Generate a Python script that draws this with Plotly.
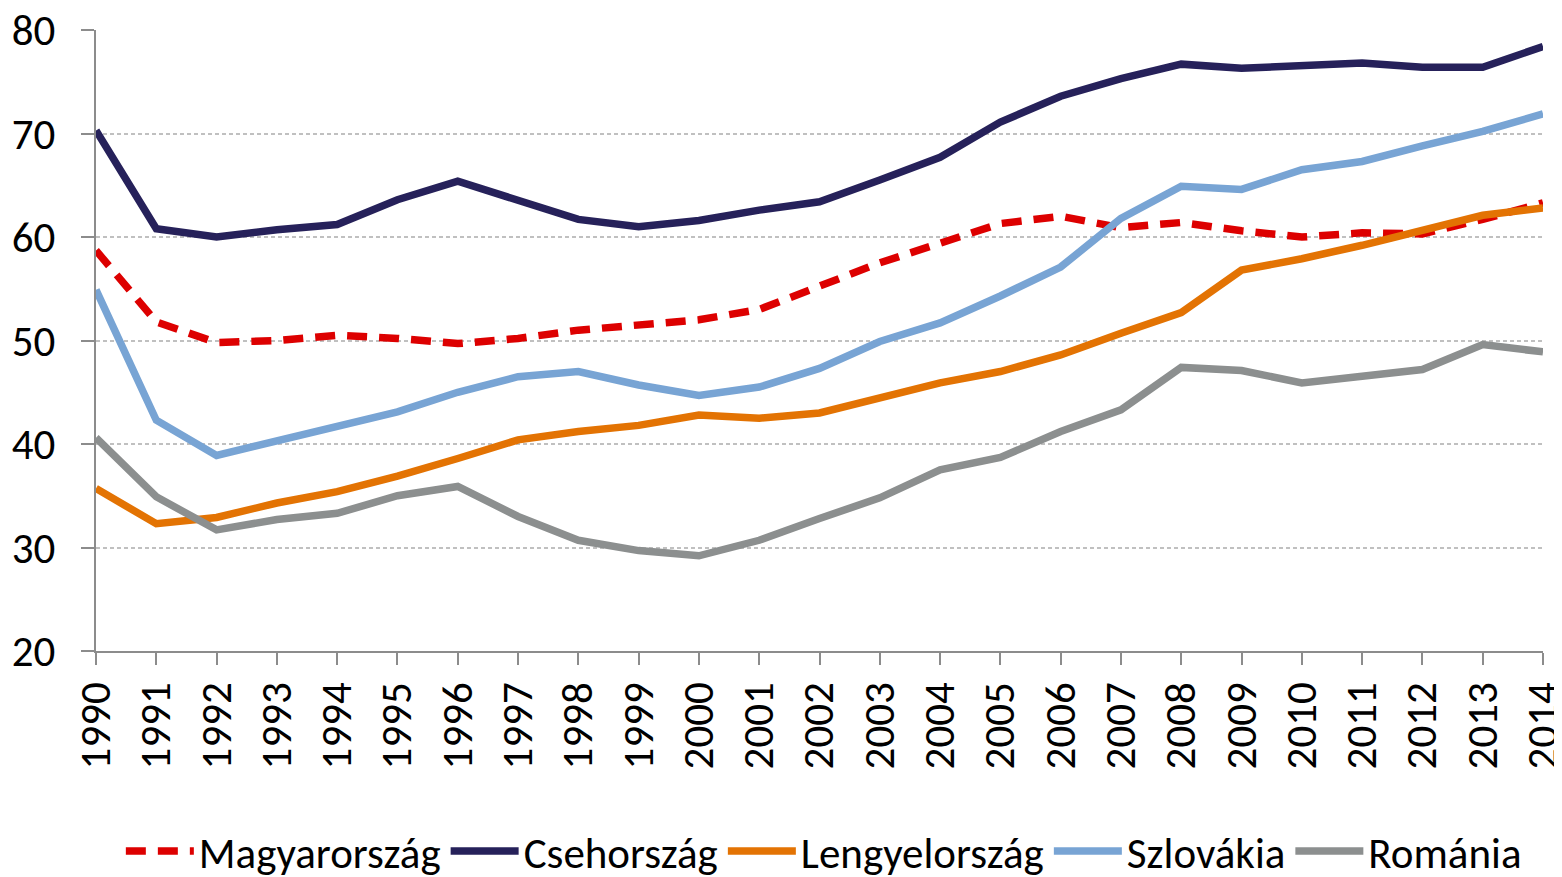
import plotly.graph_objects as go

years = list(range(1990, 2015))

magyarorszag = [58.7, 51.8, 49.8, 50.0, 50.5, 50.2, 49.7, 50.2, 51.0, 51.5, 52.0, 53.0, 55.3,
                57.5, 59.4, 61.3, 62.0, 60.9, 61.4, 60.6, 60.0, 60.4, 60.3, 61.7, 63.3]
csehorszag = [70.3, 60.8, 60.0, 60.7, 61.2, 63.6, 65.4, 63.5, 61.7, 61.0, 61.6, 62.6, 63.4,
              65.5, 67.7, 71.1, 73.6, 75.3, 76.7, 76.3, 76.5, 76.8, 76.4, 76.4, 78.4]
lengyelorszag = [35.7, 32.3, 32.9, 34.3, 35.4, 36.9, 38.6, 40.4, 41.2, 41.8, 42.8, 42.5, 43.0,
                 44.4, 45.9, 47.0, 48.6, 50.7, 52.7, 56.8, 57.9, 59.2, 60.6, 62.1, 62.8]
szlovakia = [54.9, 42.3, 38.9, 40.3, 41.6, 43.1, 45.0, 46.5, 47.0, 45.7, 44.7, 45.5, 47.3,
             49.9, 51.7, 54.3, 57.1, 61.8, 64.9, 64.6, 66.5, 67.3, 68.8, 70.2, 71.9]
romania = [40.6, 34.9, 31.7, 32.7, 33.3, 35.0, 35.9, 33.0, 30.7, 29.7, 29.2, 30.7, 32.8,
           34.8, 37.5, 38.7, 41.2, 43.3, 47.4, 47.1, 45.9, 46.6, 47.2, 49.6, 48.9]

series = [
    ("Magyarország", magyarorszag, "#dd0000", "20px,12px"),
    ("Csehország", csehorszag, "#26215a", "solid"),
    ("Lengyelország", lengyelorszag, "#e37303", "solid"),
    ("Szlovákia", szlovakia, "#78a4d4", "solid"),
    ("Románia", romania, "#8c8f8f", "solid"),
]

fig = go.Figure()
for name, vals, color, dash in series:
    fig.add_trace(go.Scatter(
        x=years, y=vals, name=name, mode="lines",
        line=dict(color=color, width=7.5, dash=dash),
    ))

font_family = "Carlito, Lato, sans-serif"

fig.update_layout(
    width=1562, height=877,
    paper_bgcolor="white", plot_bgcolor="white",
    margin=dict(l=88, r=27, t=22, b=234, autoexpand=False),
    font=dict(family=font_family, size=40, color="#000000"),
    legend=dict(orientation="h", x=0.503, xanchor="center", y=-0.322, yanchor="middle",
                font=dict(size=43, color="#000000"), itemwidth=68, traceorder="normal",
                bgcolor="rgba(0,0,0,0)", borderwidth=0),
    xaxis=dict(
        range=[1990, 2014], tickmode="array", tickvals=years,
        ticktext=[str(y) for y in years], tickangle=-90,
        showgrid=False, showline=True, linecolor="#8c8c8c", linewidth=2,
        ticks="outside", ticklen=12, tickcolor="#8c8c8c", tickwidth=2,
        tickfont=dict(size=43), zeroline=False, automargin=False,
        ticklabelstandoff=0, ticklabeloverflow="allow",
    ),
    yaxis=dict(
        range=[20, 80], tickvals=[20, 30, 40, 50, 60, 70, 80],
        showgrid=True, gridcolor="#c0c0c0", griddash="4px,3px", gridwidth=1.5,
        showline=True, linecolor="#8c8c8c", linewidth=2,
        ticks="outside", ticklen=13, tickcolor="#8c8c8c", tickwidth=2,
        tickfont=dict(size=43), zeroline=False, automargin=False,
        ticklabelstandoff=17, ticklabeloverflow="allow",
    ),
)

fig.write_html("out.html")
